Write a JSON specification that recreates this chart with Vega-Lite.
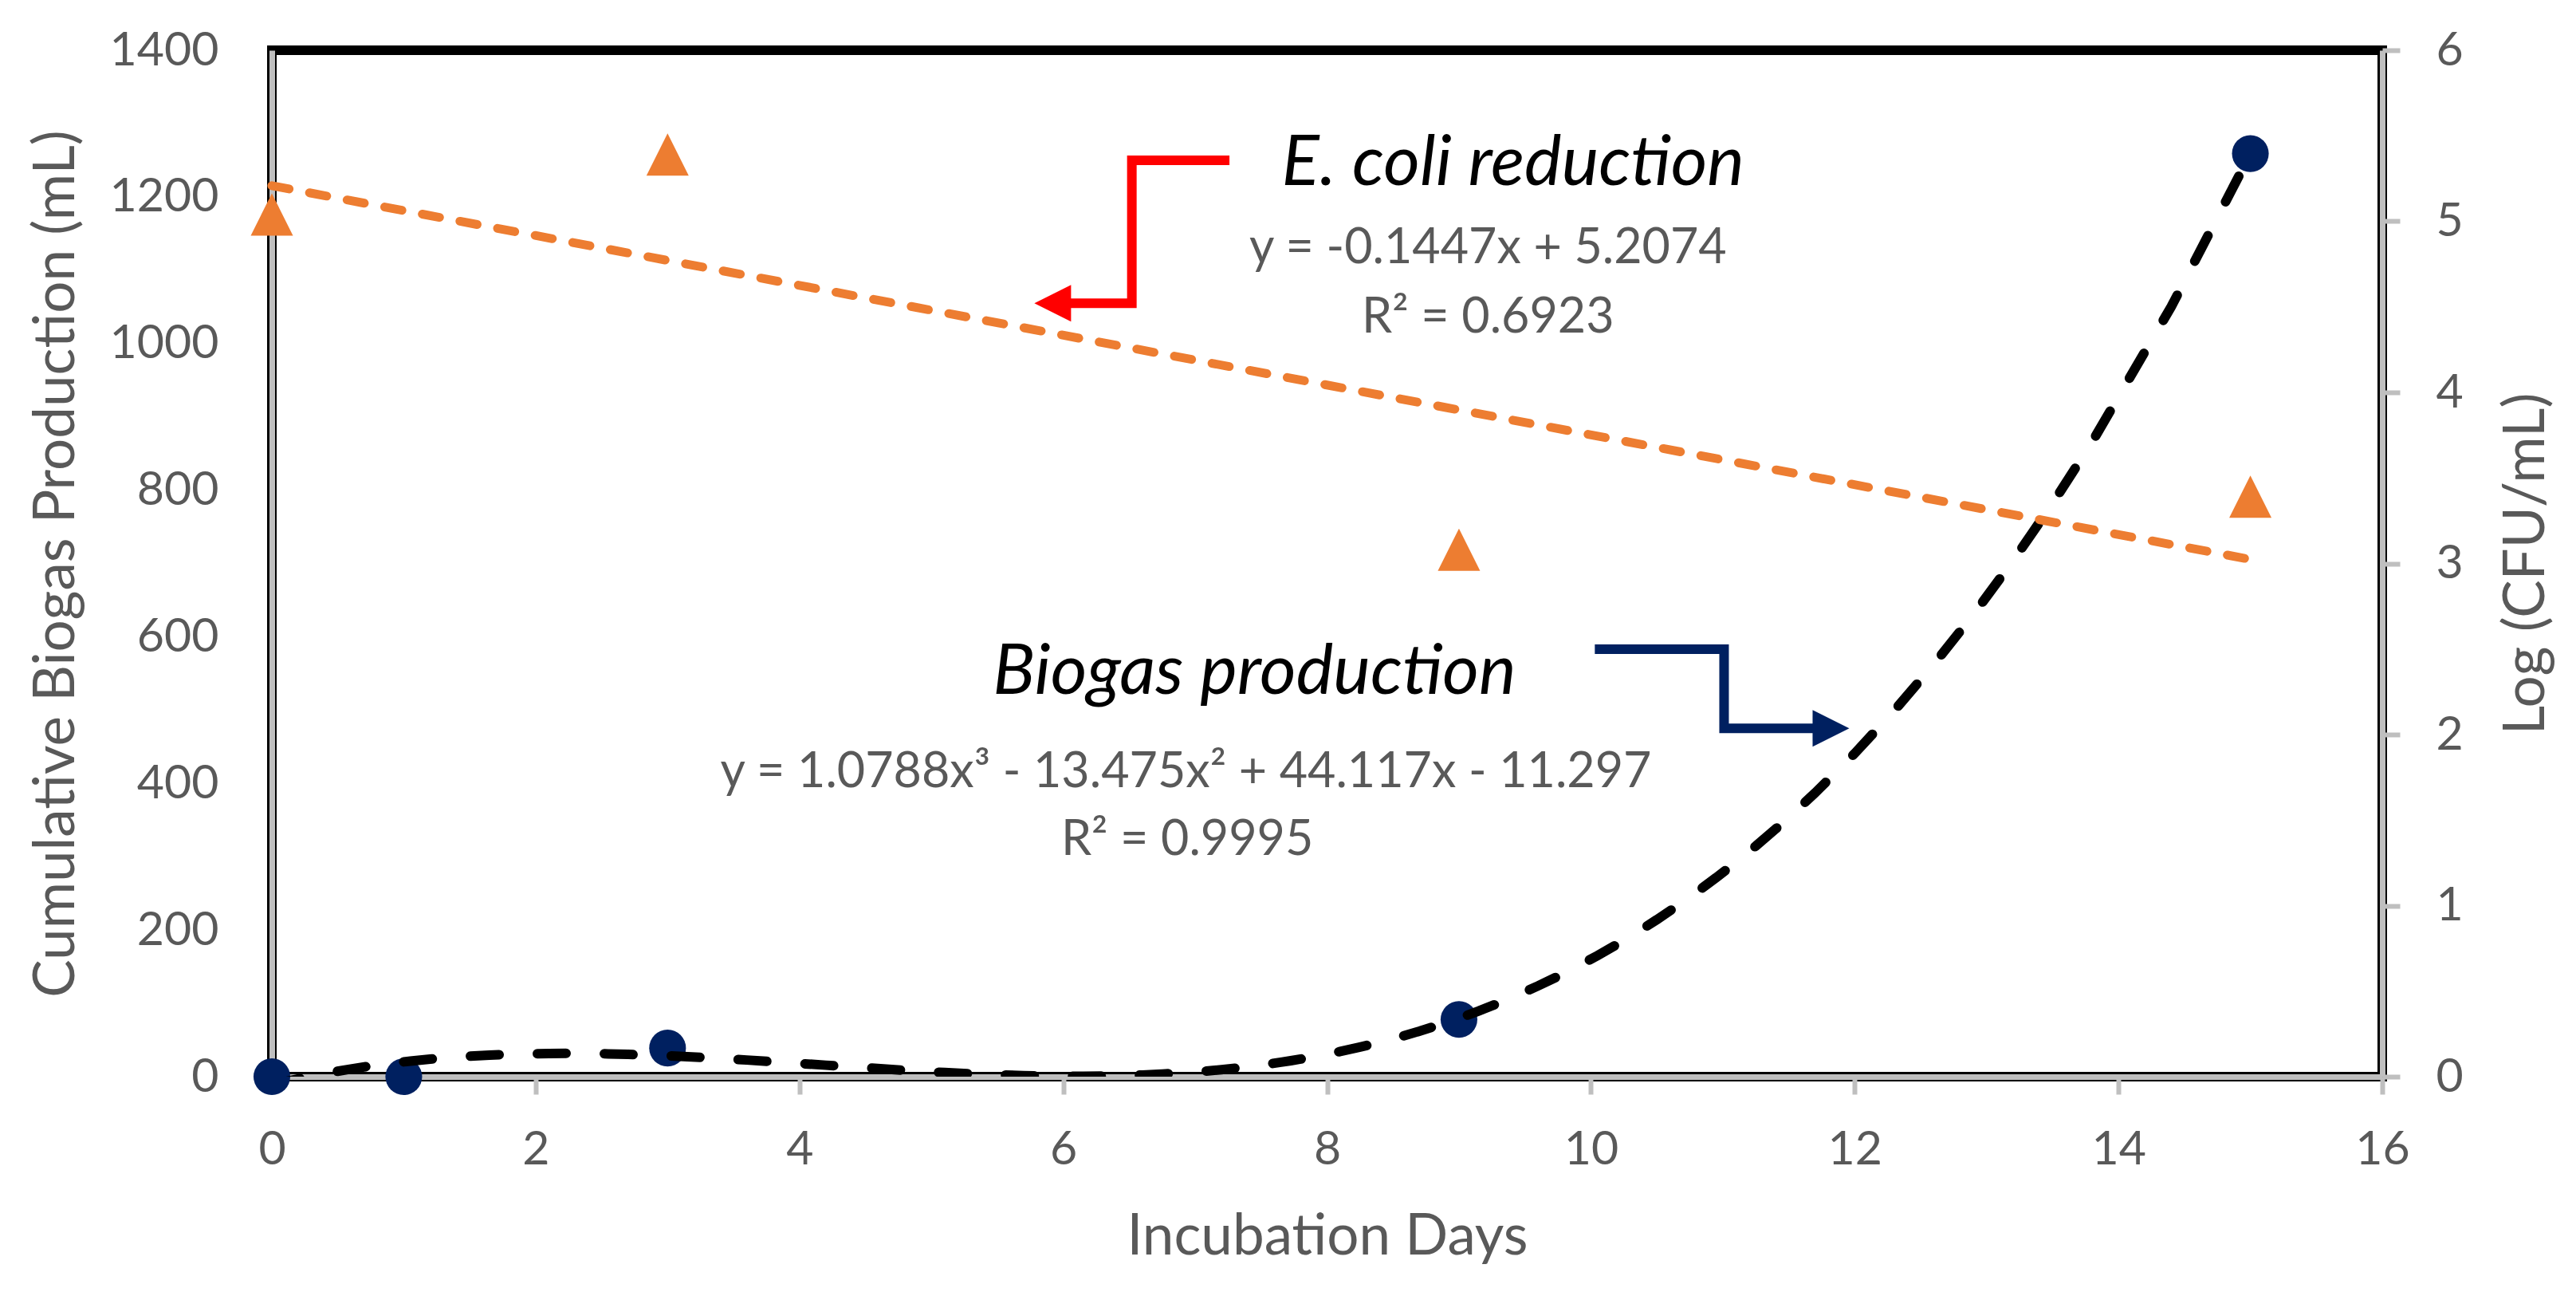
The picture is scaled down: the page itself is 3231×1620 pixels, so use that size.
{
  "$schema": "https://vega.github.io/schema/vega-lite/v6.json",
  "width": 2647,
  "height": 1287,
  "autosize": "none",
  "padding": {"left": 341, "top": 63, "right": 243, "bottom": 270},
  "background": "white",
  "config": {
    "font": "Lato",
    "view": {"stroke": "black", "strokeWidth": 12},
    "axis": {
      "grid": false,
      "domainColor": "#BFBFBF",
      "domainWidth": 7,
      "tickColor": "#BFBFBF",
      "tickWidth": 6,
      "tickSize": 22,
      "labelFont": "Lato",
      "labelFontSize": 59,
      "labelColor": "#595959",
      "titleFont": "Lato",
      "titleFontSize": 71,
      "titleFontWeight": "normal",
      "titleColor": "#595959"
    }
  },
  "datasets": {
    "biogas": [
      {"day": 0, "value": 0},
      {"day": 1, "value": 0},
      {"day": 3, "value": 39},
      {"day": 9, "value": 78},
      {"day": 15, "value": 1259}
    ],
    "ecoli": [
      {"day": 0, "value": 5.04},
      {"day": 3, "value": 5.39},
      {"day": 9, "value": 3.08},
      {"day": 15, "value": 3.39}
    ],
    "redArrow": [
      {"day": 7.26, "value": 1250, "step": 1},
      {"day": 6.52, "value": 1250, "step": 2},
      {"day": 6.52, "value": 1055, "step": 3},
      {"day": 5.92, "value": 1055, "step": 4}
    ],
    "redHead": [{"day": 5.92, "value": 1055}],
    "blueArrow": [
      {"day": 10.03, "value": 583, "step": 1},
      {"day": 11.01, "value": 583, "step": 2},
      {"day": 11.01, "value": 475, "step": 3},
      {"day": 11.82, "value": 475, "step": 4}
    ],
    "blueHead": [{"day": 11.82, "value": 475}],
    "titles": [
      {"day": 9.41, "value": 1216, "label": "E. coli reduction"},
      {"day": 7.45, "value": 522, "label": "Biogas production"}
    ],
    "equations": [
      {"day": 9.22, "value": 1110, "label": "y = -0.1447x + 5.2074"},
      {"day": 9.22, "value": 1015, "label": "R² = 0.6923"},
      {"day": 6.93, "value": 395, "label": "y = 1.0788x³ - 13.475x² + 44.117x - 11.297"},
      {"day": 6.94, "value": 302, "label": "R² = 0.9995"}
    ]
  },
  "encoding": {
    "x": {
      "field": "day",
      "type": "quantitative",
      "scale": {"domain": [0, 16], "nice": false, "zero": false},
      "axis": {
        "values": [0, 2, 4, 6, 8, 10, 12, 14, 16],
        "title": "Incubation Days",
        "labelPadding": 40,
        "titlePadding": 45,
        "labelFlush": false
      }
    }
  },
  "layer": [
    {
      "encoding": {
        "y": {
          "field": "value",
          "type": "quantitative",
          "scale": {"domain": [0, 1400], "nice": false},
          "axis": {
            "orient": "left",
            "values": [0, 200, 400, 600, 800, 1000, 1200, 1400],
            "format": "d",
            "ticks": false,
            "labelPadding": 67,
            "title": "Cumulative Biogas Production (mL)",
            "titlePadding": 34
          }
        }
      },
      "layer": [
        {
          "data": {"name": "biogas"},
          "mark": {"type": "point", "shape": "circle", "filled": true, "color": "#002060", "size": 2124, "opacity": 1, "strokeWidth": 0}
        },
        {
          "data": {"name": "biogas"},
          "transform": [{"regression": "value", "on": "day", "method": "poly", "order": 3}],
          "mark": {"type": "line", "color": "black", "strokeWidth": 12, "strokeDash": [36, 48], "strokeCap": "round", "clip": true}
        },
        {
          "data": {"name": "redArrow"},
          "mark": {"type": "line", "color": "#FF0000", "strokeWidth": 12, "strokeCap": "butt", "strokeJoin": "miter"},
          "encoding": {"order": {"field": "step", "type": "quantitative"}}
        },
        {
          "data": {"name": "redHead"},
          "mark": {"type": "point", "shape": "M-1,0L1,-1L1,1Z", "filled": true, "color": "#FF0000", "size": 2116, "opacity": 1, "strokeWidth": 0}
        },
        {
          "data": {"name": "blueArrow"},
          "mark": {"type": "line", "color": "#002060", "strokeWidth": 12, "strokeCap": "butt", "strokeJoin": "miter"},
          "encoding": {"order": {"field": "step", "type": "quantitative"}}
        },
        {
          "data": {"name": "blueHead"},
          "mark": {"type": "point", "shape": "M1,0L-1,-1L-1,1Z", "filled": true, "color": "#002060", "size": 2116, "opacity": 1, "strokeWidth": 0}
        },
        {
          "data": {"name": "titles"},
          "mark": {"type": "text", "align": "center", "baseline": "alphabetic", "font": "Lato", "fontSize": 88, "fontStyle": "italic", "color": "black"},
          "encoding": {"text": {"field": "label", "type": "nominal"}}
        },
        {
          "data": {"name": "equations"},
          "mark": {"type": "text", "align": "center", "baseline": "alphabetic", "font": "Lato", "fontSize": 61, "color": "#595959"},
          "encoding": {"text": {"field": "label", "type": "nominal"}}
        }
      ]
    },
    {
      "encoding": {
        "y": {
          "field": "value",
          "type": "quantitative",
          "scale": {"domain": [0, 6], "nice": false},
          "axis": {
            "orient": "right",
            "values": [0, 1, 2, 3, 4, 5, 6],
            "labelPadding": 45,
            "title": "Log (CFU/mL)",
            "titleAngle": -90,
            "titleBaseline": "top",
            "titlePadding": 45
          }
        }
      },
      "layer": [
        {
          "data": {"name": "ecoli"},
          "transform": [{"regression": "value", "on": "day", "method": "linear"}],
          "mark": {"type": "line", "color": "#ED7D31", "strokeWidth": 11, "strokeDash": [22, 26], "strokeCap": "round"}
        },
        {
          "data": {"name": "ecoli"},
          "mark": {"type": "point", "shape": "M0,-1L1,1L-1,1Z", "filled": true, "color": "#ED7D31", "size": 2809, "opacity": 1, "strokeWidth": 0}
        }
      ]
    }
  ],
  "resolve": {"scale": {"y": "independent"}}
}
